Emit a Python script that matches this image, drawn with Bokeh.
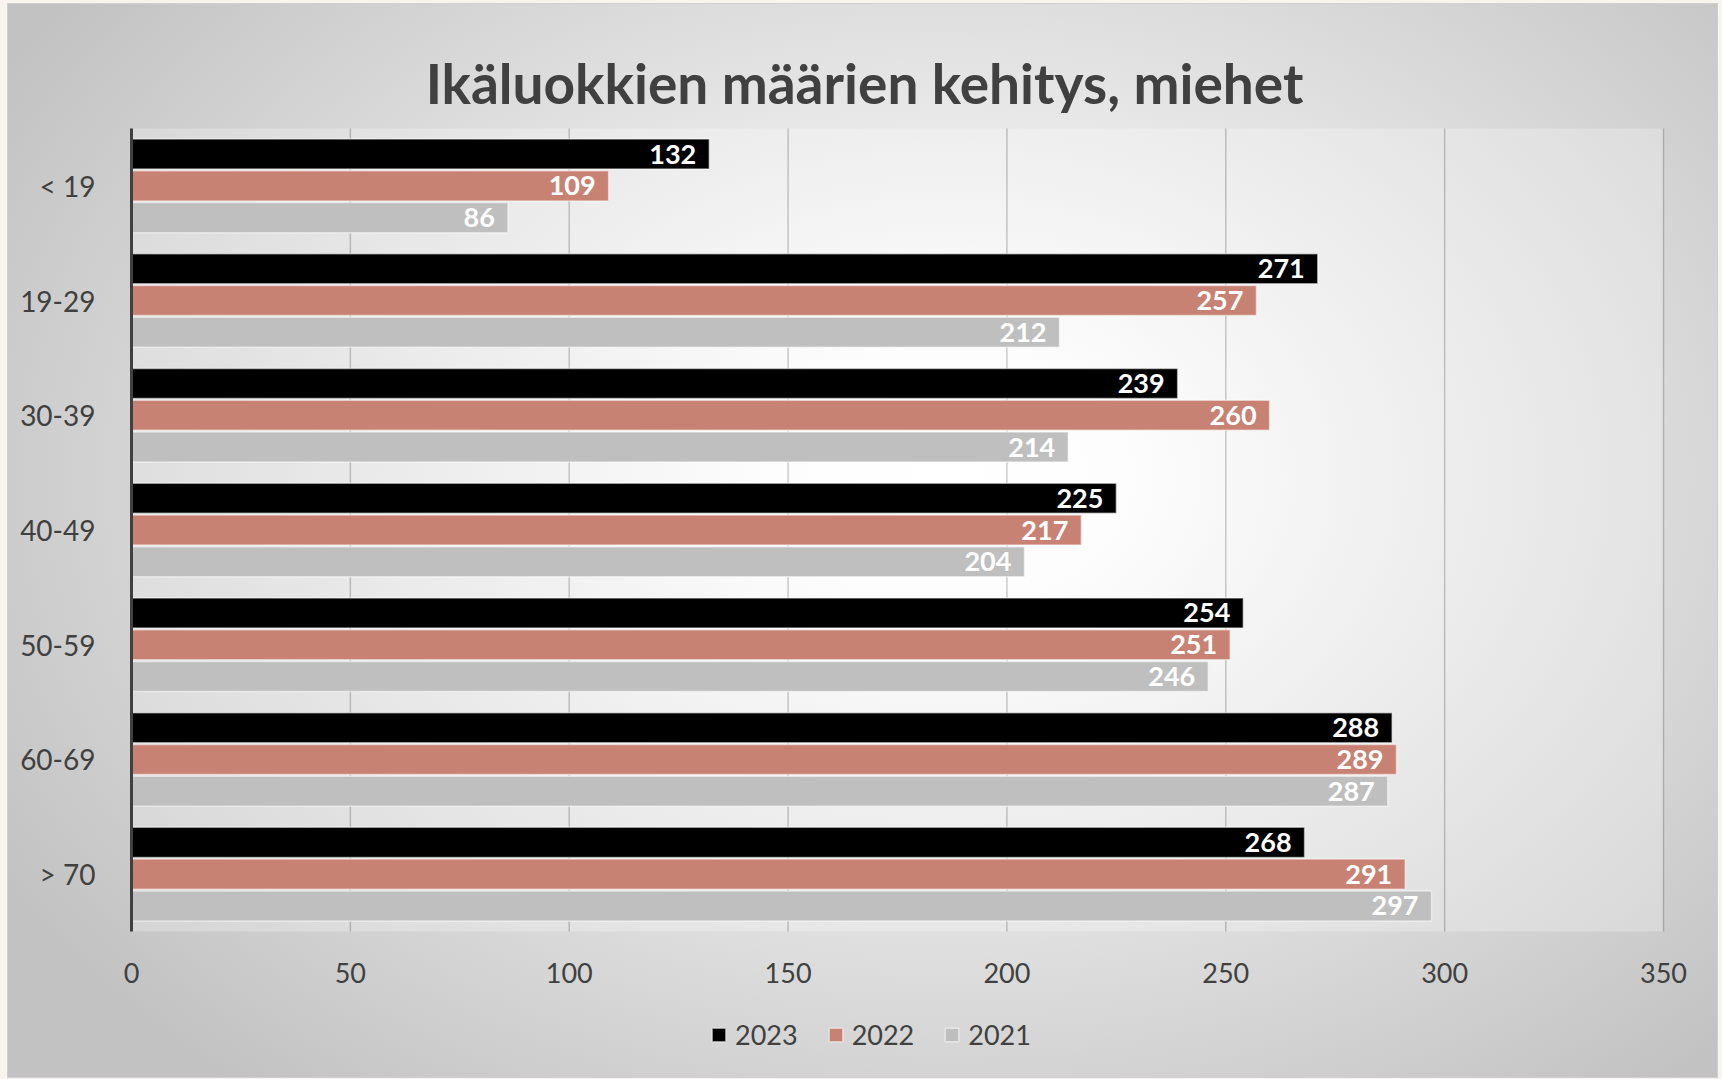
from bokeh.plotting import figure
from bokeh.models import (ColumnDataSource, Range1d, FixedTicker, BoxAnnotation,
                          Legend, LegendItem, Label)
from bokeh.transform import dodge
from bokeh.core.properties import value
from bokeh.embed import file_html
from bokeh.resources import INLINE
from jinja2 import Template

# ---- data ----
categories = ["< 19", "19-29", "30-39", "40-49", "50-59", "60-69", "> 70"]
years = ["2023", "2022", "2021"]
values_2023 = [132, 271, 239, 225, 254, 288, 268]
values_2022 = [109, 257, 260, 217, 251, 289, 291]
values_2021 = [86, 212, 214, 204, 246, 287, 297]
x_ticks = [0, 50, 100, 150, 200, 250, 300, 350]
title_text = "Ikäluokkien määrien kehitys, miehet"

# ---- styles ----
colors = {"2023": "#000000", "2022": "#c88274", "2021": "#bfbfbf"}
offsets = {"2023": 0.277, "2022": 0.0, "2021": -0.277}
FONT = "Lato"
TEXT_COLOR = "#404040"

n = len(categories)
x_max = x_ticks[-1]
positions = [n - 0.5 - i for i in range(n)]          # first category on top
series = {"2023": values_2023, "2022": values_2022, "2021": values_2021}
data = dict(cat=categories, pos=positions)
for y in years:
    data["v" + y] = series[y]
    data["l" + y] = [str(v) for v in series[y]]
source = ColumnDataSource(data)

tick_src = ColumnDataSource(dict(x=x_ticks, label=[str(t) for t in x_ticks],
                                 base=[0] * len(x_ticks), top=[n] * len(x_ticks)))
axis_src = ColumnDataSource(dict(x=[0], base=[0], top=[n]))

# geometry: 1532 px for 0..350, 803 px for the 7 category bands,
# 124 px above for the title, 146 px below for axis labels + legend
px_x = 1532 / x_max
px_y = 803 / n
left_pad, right_pad = 13, 30
top_px, bottom_px = 124, 146
p = figure(title=None,
           frame_width=1532 + left_pad + right_pad, frame_height=803 + top_px + bottom_px,
           x_range=Range1d(-left_pad / px_x, x_max + right_pad / px_x),
           y_range=Range1d(-bottom_px / px_y, n + top_px / px_y),
           x_axis_location=None,
           output_backend="svg", toolbar_location=None,
           min_border_left=110, min_border_right=24,
           min_border_top=0, min_border_bottom=0)

p.styles = {
    "background-image": "radial-gradient(ellipse 1100px 800px at 55% 44%, #ffffff 0%, #fdfdfd 15%, #c2c2c2 100%)",
    "outline": "1px solid #cfcfcf",
}
p.border_fill_color = None
p.background_fill_color = None
p.outline_line_color = None
p.xgrid.grid_line_color = None
p.ygrid.grid_line_color = None

# plot-area tint
p.add_layout(BoxAnnotation(left=0, right=x_max, bottom=0, top=n,
                           fill_color="white", fill_alpha=0.25, line_color=None,
                           level="underlay"))

# vertical grid lines (from the x tick list)
p.segment(x0="x", y0="base", x1="x", y1="top", source=tick_src,
          line_color="#000000", line_alpha=0.2, line_width=1.5)

renderers = {}
for y in years:
    r = p.hbar(y=dodge("pos", offsets[y]), right="v" + y, left=0,
               height=0.262, source=source, fill_color=colors[y],
               line_color="white", line_alpha=0.5, line_width=1.5)
    renderers[y] = r
    p.text(x="v" + y, y=dodge("pos", offsets[y]), text="l" + y,
           source=source, x_offset=-13, text_align="right", text_baseline="middle",
           text_color="white", text_font=value(FONT), text_font_style="bold",
           text_font_size="27px")

# vertical axis line at x = 0
p.segment(x0="x", y0="base", x1="x", y1="top", source=axis_src,
          line_color="#404040", line_width=3)

# x tick labels under the category bands
p.text(x="x", y="base", text="label", source=tick_src, y_offset=41,
       text_align="center", text_baseline="middle", text_color=TEXT_COLOR,
       text_font=value(FONT), text_font_size="27px")

# y axis labels (axis line drawn above at x = 0)
p.yaxis.ticker = FixedTicker(ticks=positions)
p.yaxis.major_label_overrides = {pos: cat for pos, cat in zip(positions, categories)}
p.yaxis.axis_line_color = None
p.yaxis.major_tick_line_color = None
p.yaxis.minor_tick_line_color = None
p.yaxis.major_label_standoff = 17
p.yaxis.major_label_text_font = FONT
p.yaxis.major_label_text_font_size = "28px"
p.yaxis.major_label_text_color = TEXT_COLOR

# title (inside the extended frame, screen units from the frame's bottom-left)
p.add_layout(Label(x=746, y=1073 - 78.4, x_units="screen", y_units="screen",
                   text=title_text, text_align="center", text_baseline="alphabetic",
                   text_font=FONT, text_font_style="bold", text_font_size="55px",
                   text_color=TEXT_COLOR))

# legend
legend = Legend(items=[LegendItem(label=y, renderers=[renderers[y]]) for y in years],
                orientation="horizontal", location=(579 + left_pad, 26),
                glyph_width=17, glyph_height=17, label_standoff=8, spacing=29,
                padding=0, margin=0, background_fill_alpha=0,
                border_line_color=None, label_text_font=FONT,
                label_text_font_size="27px", label_text_color=TEXT_COLOR)
p.add_layout(legend, "center")

template = Template("""{% extends base %}
{% block preamble %}<style>html, body { margin: 0 !important; padding: 0 !important; background: #f8f4ee; } body { padding: 4px 0 0 8px !important; }</style>{% endblock %}""")

open("out.html", "w").write(file_html(p, INLINE, title="Ikäluokat", template=template))
